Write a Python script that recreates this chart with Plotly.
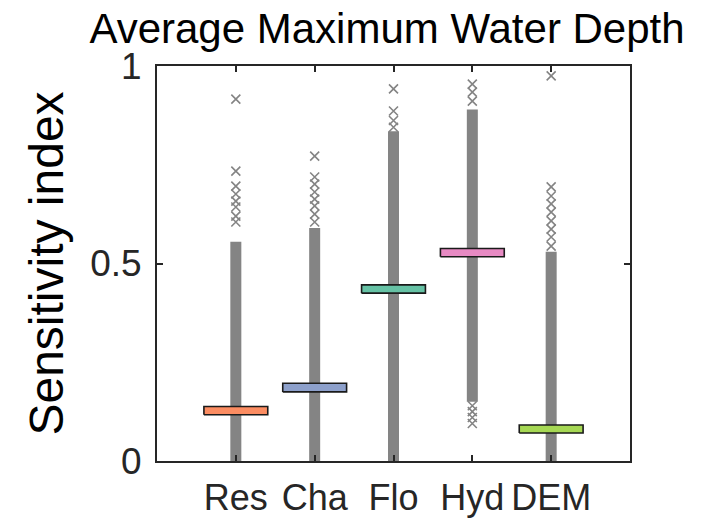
import plotly.graph_objects as go

categories = ["Res", "Cha", "Flo", "Hyd", "DEM"]
positions = [1, 2, 3, 4, 5]
q1 = [0.117, 0.175, 0.425, 0.517, 0.071]
q3 = [0.138, 0.197, 0.446, 0.538, 0.091]
box_colors = ["#fc8d62", "#8da0cb", "#66c2a5", "#e78ac3", "#a6d854"]

# dense run of outlier markers (continuous gray column)
dense_low = [0.0, 0.0, 0.0, 0.15, 0.0]
dense_high = [0.555, 0.59, 0.835, 0.89, 0.53]

# isolated outliers
out_res = [0.916, 0.734, 0.696, 0.676, 0.658, 0.643, 0.620, 0.605]
out_cha = [0.772, 0.719, 0.701, 0.681, 0.663, 0.646, 0.625, 0.605]
out_flo = [0.942, 0.886, 0.862, 0.845]
out_hyd = [0.954, 0.934, 0.911, 0.14, 0.125, 0.11, 0.095]
out_dem = [0.975, 0.694, 0.671, 0.651, 0.630, 0.608, 0.587, 0.567, 0.544]
outliers = [out_res, out_cha, out_flo, out_hyd, out_dem]

y_ticks = [0, 0.5, 1]
y_ticklabels = ["0", "0.5", "1"]

GRAY = "rgb(132,132,132)"
FONT = "Liberation Sans, Arial, sans-serif"
HALF_W = 0.405

fig = go.Figure()

for p, lo, hi in zip(positions, dense_low, dense_high):
    fig.add_trace(go.Scatter(x=[p, p], y=[lo, hi], mode="lines",
                             line=dict(color=GRAY, width=11),
                             hoverinfo="skip", showlegend=False))

for p, outs in zip(positions, outliers):
    fig.add_trace(go.Scatter(x=[p] * len(outs), y=outs, mode="markers",
                             marker=dict(symbol="x-thin", size=9,
                                         line=dict(color=GRAY, width=1.6)),
                             showlegend=False))

for p, a, b, c in zip(positions, q1, q3, box_colors):
    fig.add_trace(go.Scatter(x=[p - HALF_W, p + HALF_W, p + HALF_W, p - HALF_W, p - HALF_W],
                             y=[a, a, b, b, a], mode="lines", fill="toself",
                             fillcolor=c, line=dict(color="#1a1a1a", width=1.6),
                             showlegend=False))

fig.update_layout(
    width=723, height=520,
    margin=dict(l=157, r=93, t=66, b=59, autoexpand=False),
    plot_bgcolor="white", paper_bgcolor="white",
    font=dict(family=FONT, color="#1a1a1a"),
    title=dict(text="Average Maximum Water Depth", x=387 / 723, xanchor="center",
               y=1 - 28 / 520, yanchor="middle", font=dict(size=42, family=FONT, color="black")),
)
fig.update_xaxes(range=[0, 6], tickvals=positions, ticktext=categories,
                 showline=True, linecolor="#262626", linewidth=2, mirror="allticks",
                 ticks="inside", ticklen=6, tickwidth=2, tickcolor="#262626",
                 showgrid=False, zeroline=False, ticklabelstandoff=4, automargin=False,
                 tickfont=dict(size=36, family=FONT, color="#262626"))
fig.update_yaxes(range=[0, 1], tickvals=y_ticks, ticktext=y_ticklabels,
                 showline=True, linecolor="#262626", linewidth=2, mirror="allticks",
                 ticks="inside", ticklen=6, tickwidth=2, tickcolor="#262626",
                 showgrid=False, zeroline=False, ticklabelstandoff=6, automargin=False,
                 tickfont=dict(size=37, family=FONT, color="#262626"),
                 title=dict(text="Sensitivity index", standoff=11,
                            font=dict(size=48, family=FONT, color="black")))

fig.write_html("out.html")
